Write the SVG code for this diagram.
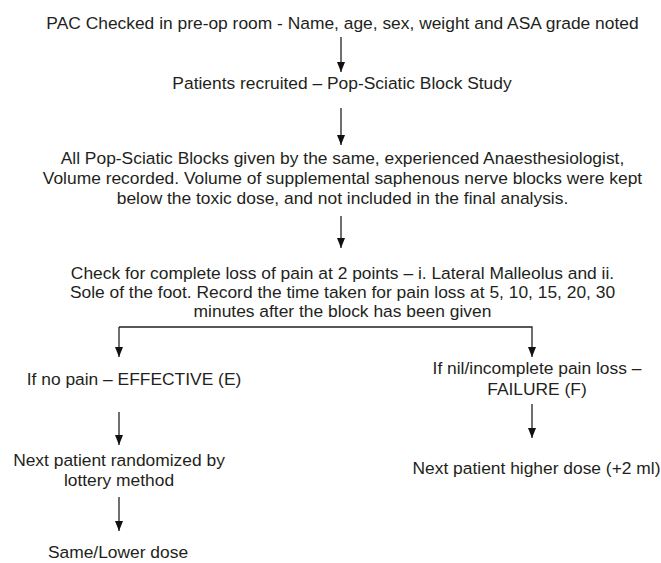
<svg xmlns="http://www.w3.org/2000/svg" width="661" height="563" viewBox="0 0 661 563">
<defs>
<marker id="ah" markerWidth="10" markerHeight="8" refX="10" refY="4" orient="auto" markerUnits="userSpaceOnUse" viewBox="0 0 10 8">
<path d="M0,0 L10,4 L0,8 Z" fill="#111"/>
</marker>
</defs>
<style>
text{font-family:"Liberation Sans",Arial,sans-serif;font-size:17.4px;fill:#231f20;text-anchor:middle}
.c{fill:none;stroke:#222;stroke-width:1.3}
</style>
<rect width="661" height="563" fill="#fff"/>
<g id="n1"><text x="342.5" y="29">PAC Checked in pre-op room - Name, age, sex, weight and ASA grade noted</text></g>
<g id="n2"><text x="342" y="89">Patients recruited – Pop-Sciatic Block Study</text></g>
<g id="n3"><text x="342.5" y="164">All Pop-Sciatic Blocks given by the same, experienced Anaesthesiologist,</text><text x="342.5" y="184">Volume recorded. Volume of supplemental saphenous nerve blocks were kept</text><text x="342.5" y="204">below the toxic dose, and not included in the final analysis.</text></g>
<g id="n4"><text x="342.5" y="279">Check for complete loss of pain at 2 points – i. Lateral Malleolus and ii.</text><text x="342.5" y="298">Sole of the foot. Record the time taken for pain loss at 5, 10, 15, 20, 30</text><text x="342.5" y="317">minutes after the block has been given</text></g>
<g id="n5"><text x="134" y="385">If no pain – EFFECTIVE (E)</text></g>
<g id="n6"><text x="537" y="374">If nil/incomplete pain loss –</text><text x="537" y="395">FAILURE (F)</text></g>
<g id="n7"><text x="119" y="466">Next patient randomized by</text><text x="119" y="486">lottery method</text></g>
<g id="n8"><text x="536.5" y="474">Next patient higher dose (+2 ml)</text></g>
<g id="n9"><text x="118" y="558">Same/Lower dose</text></g>
<g id="connectors">
<path class="c" d="M341,37 V72" marker-end="url(#ah)"/>
<path class="c" d="M341,108 V145" marker-end="url(#ah)"/>
<path class="c" d="M341,216 V248" marker-end="url(#ah)"/>
<path class="c" d="M119,327 H532 V357" marker-end="url(#ah)"/>
<path class="c" d="M119,327 V357" marker-end="url(#ah)"/>
<path class="c" d="M532,404 V438" marker-end="url(#ah)"/>
<path class="c" d="M119,412 V445" marker-end="url(#ah)"/>
<path class="c" d="M119,497 V531" marker-end="url(#ah)"/>
</g>
</svg>
